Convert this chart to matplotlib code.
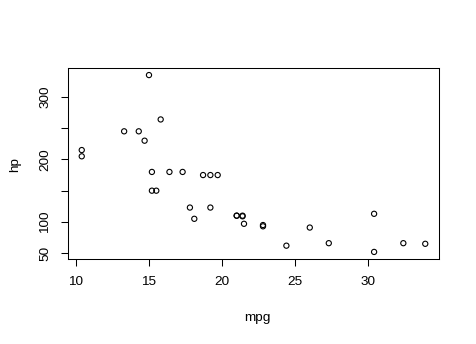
import matplotlib.pyplot as plt
import numpy as np

plt.rcParams['font.family'] = ['Liberation Sans', 'DejaVu Sans']

# mtcars: mpg vs hp
mpg = [21.0, 21.0, 22.8, 21.4, 18.7, 18.1, 14.3, 24.4, 22.8, 19.2, 17.8, 16.4,
       17.3, 15.2, 10.4, 10.4, 14.7, 32.4, 30.4, 33.9, 21.5, 15.5, 15.2, 13.3,
       19.2, 27.3, 26.0, 30.4, 15.8, 19.7, 15.0, 21.4]
hp = [110, 110, 93, 110, 175, 105, 245, 62, 95, 123, 123, 180,
      180, 180, 205, 215, 230, 66, 52, 65, 97, 150, 150, 245,
      175, 66, 91, 113, 264, 175, 335, 109]

x_ticks = [10, 15, 20, 25, 30]
y_ticks = [50, 100, 150, 200, 250, 300]
y_tick_labels = ["50", "100", "", "200", "", "300"]

fig = plt.figure(figsize=(4.76, 3.44), dpi=100)
ax = fig.add_axes([68/476, 85/344, 371/476, 191/344])

ax.scatter(mpg, hp, s=14, facecolors='none', edgecolors='black', linewidths=0.8)

# R style 4% padding
xr = max(mpg) - min(mpg)
yr = max(hp) - min(hp)
ax.set_xlim(min(mpg) - 0.04*xr, max(mpg) + 0.04*xr)
ax.set_ylim(min(hp) - 0.04*yr, max(hp) + 0.04*yr)

ax.set_xticks(x_ticks)
ax.set_xticklabels([str(t) for t in x_ticks])
ax.set_yticks(y_ticks)
ax.set_yticklabels(y_tick_labels, rotation=90, va='center')
ax.tick_params(direction='out', length=5.2, width=0.75, labelsize=9.7, pad=7)
for s in ax.spines.values():
    s.set_linewidth(0.75)

fig.text(257/476, 1 - 318/344, "mpg", ha='center', va='center', fontsize=9.7)
fig.text(15/476, 1 - 164/344, "hp", ha='center', va='center', rotation=90, fontsize=9.7)

fig.savefig("out.png", dpi=100)
